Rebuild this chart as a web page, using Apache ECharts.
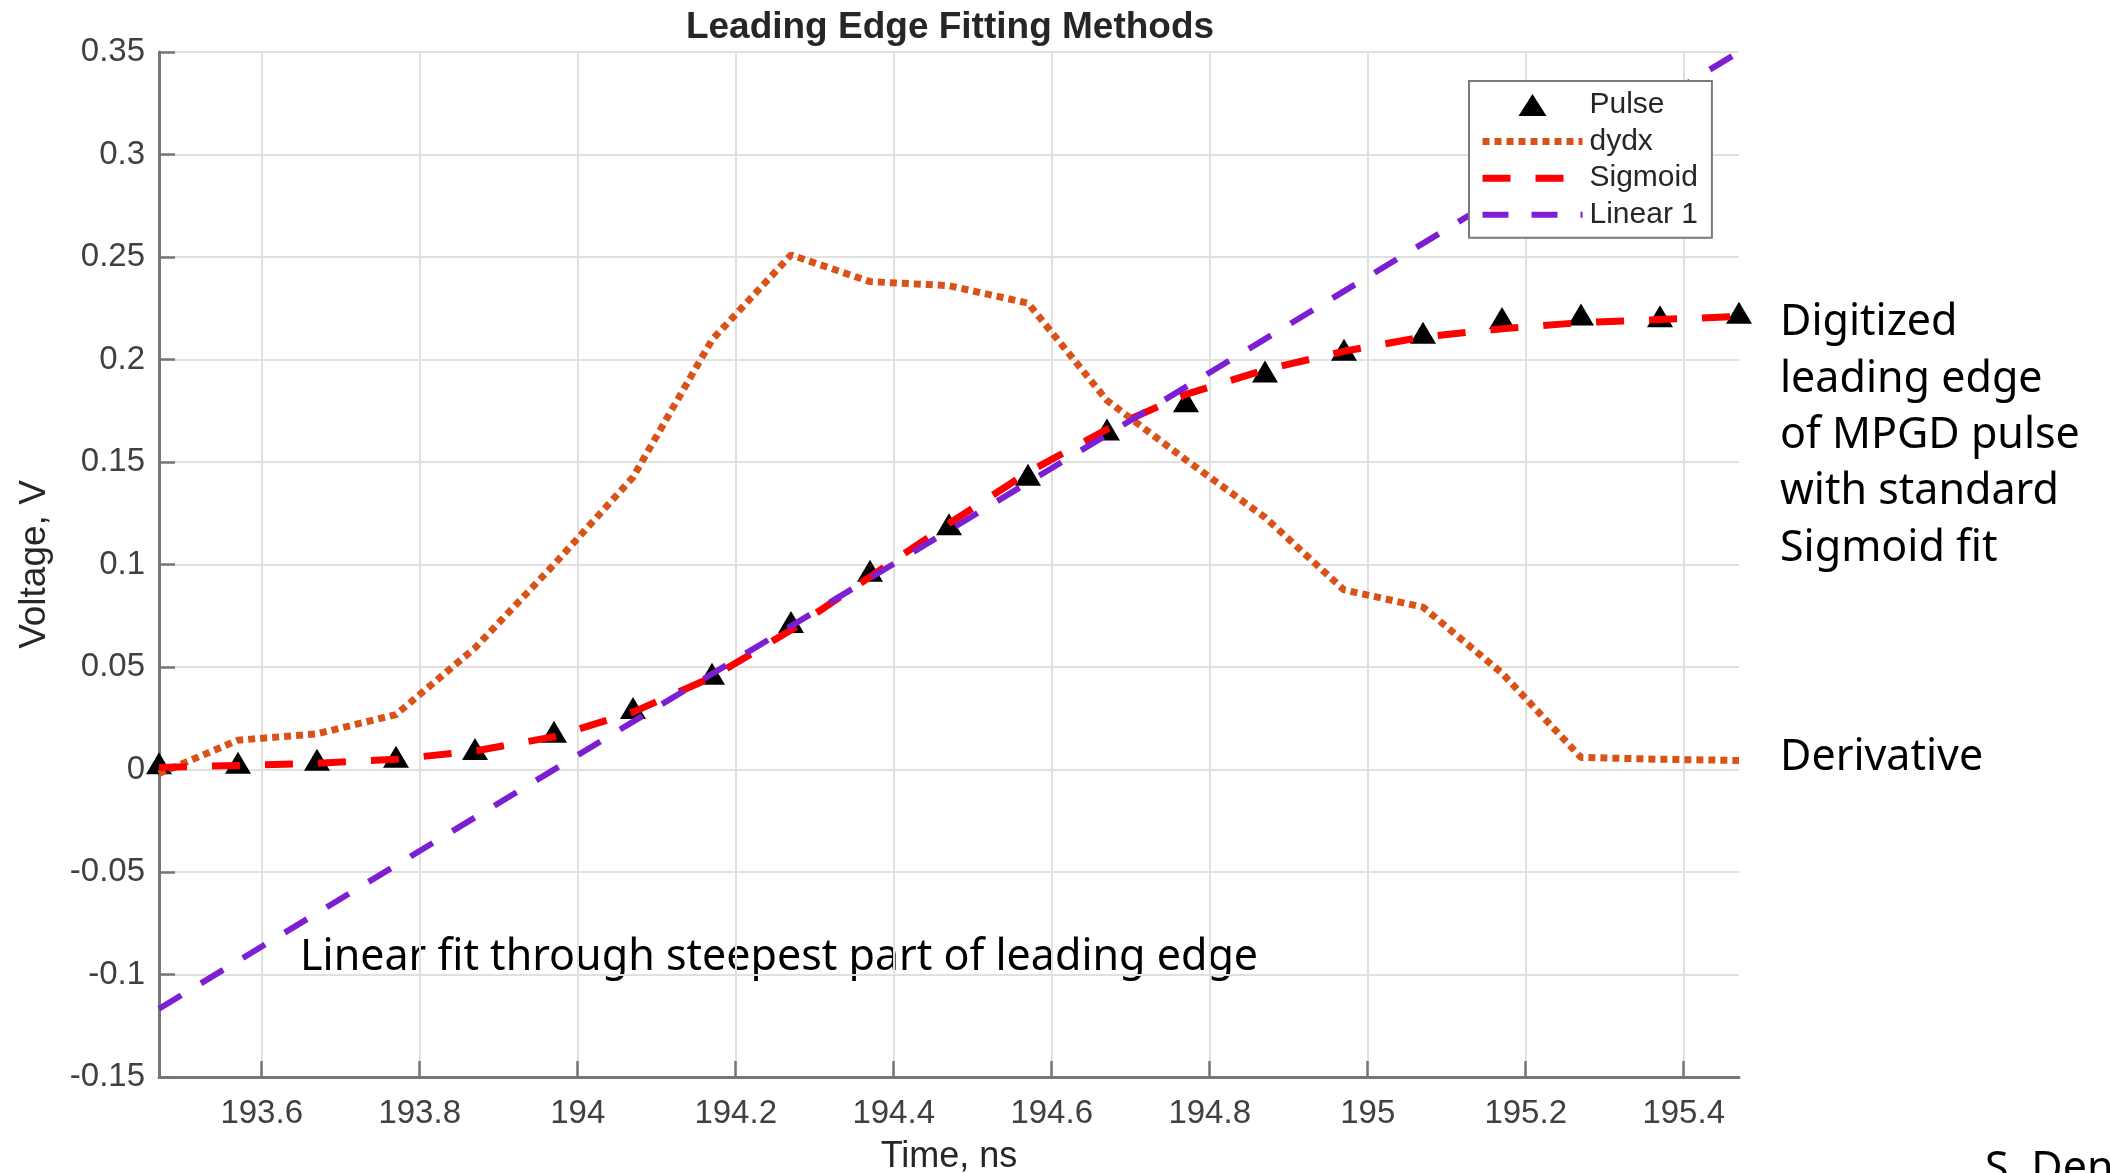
<!DOCTYPE html>
<html>
<head>
<meta charset="utf-8">
<script src="https://cdn.jsdelivr.net/npm/echarts@6/dist/echarts.min.js"></script>
<style>
html, body { margin: 0; padding: 0; background: #fff; }
#main { width: 2110px; height: 1173px; }
</style>
</head>
<body>
<div id="main"></div>
<script>
// time samples of the digitized pulse, ns
var timeNs = [193.47, 193.57, 193.67, 193.77, 193.87, 193.97, 194.07, 194.17, 194.27, 194.37, 194.47,
              194.57, 194.67, 194.77, 194.87, 194.97, 195.07, 195.17, 195.27, 195.37, 195.47];
var pulse = [0.003, 0.0033, 0.0048, 0.0062, 0.010, 0.0184, 0.030, 0.0467, 0.0719, 0.097, 0.1196,
             0.1438, 0.1658, 0.1796, 0.1942, 0.2048, 0.213, 0.2203, 0.2219, 0.2211, 0.2228];
var dydx = [-0.002, 0.0143, 0.0174, 0.0268, 0.0593, 0.100, 0.1426, 0.2096, 0.251, 0.238, 0.236,
            0.2275, 0.180, 0.151, 0.123, 0.0876, 0.0792, 0.047, 0.0059, 0.005, 0.0044];
var sigmoid = [0.001, 0.002, 0.003, 0.005, 0.009, 0.016, 0.028, 0.045, 0.068, 0.094, 0.12,
               0.145, 0.166, 0.183, 0.195, 0.204, 0.211, 0.215, 0.218, 0.2195, 0.221];
// linear fit end points
var linearTime = [193.47, 195.47];
var linear1 = [-0.1167, 0.35];
var xTicks = [193.6, 193.8, 194, 194.2, 194.4, 194.6, 194.8, 195, 195.2, 195.4];

function pairs(xs, ys) {
    return xs.map(function (x, i) { return [x, ys[i]]; });
}

var axisGray = "#767676";
var labelFont = "Liberation Sans";
var noteFont = "Noto Sans";
// triangle centred in a 100x22 legend slot
var legendTriangle = "path://M0,0L0,0M100,22L100,22M36,22L50,0L64,22Z";

var chart = echarts.init(document.getElementById("main"));

var option = {
    animation: false,
    backgroundColor: "#fff",
    title: {
        text: "Leading Edge Fitting Methods",
        left: 950,
        top: 9,
        padding: 0,
        textAlign: "center",
        textStyle: {fontFamily: labelFont, fontSize: 37, fontWeight: "bold", color: "#262626"}
    },
    grid: {left: 159, right: 371, top: 52, bottom: 96, containLabel: false, outerBoundsMode: "none"},
    legend: {
        orient: "vertical",
        left: 1469,
        top: 81,
        padding: [9, 14, 8, 10],
        itemWidth: 100,
        itemHeight: 22,
        itemGap: 6.6,
        backgroundColor: "#fff",
        borderColor: "#7a7a7a",
        borderWidth: 2,
        textStyle: {fontFamily: labelFont, fontSize: 30, color: "#262626", padding: [0, 0, 0, 2]},
        lineStyle: {width: 6},
        data: [
            {name: "Pulse", icon: legendTriangle, itemStyle: {color: "#000", opacity: 1}},
            {name: "dydx", itemStyle: {opacity: 0}, lineStyle: {width: 7}},
            {name: "Sigmoid", itemStyle: {opacity: 0}, lineStyle: {width: 7}},
            {name: "Linear 1", itemStyle: {opacity: 0}}
        ]
    },
    xAxis: {
        type: "value",
        min: 193.47,
        max: 195.47,
        name: "Time, ns",
        nameLocation: "middle",
        nameGap: 62,
        nameTextStyle: {fontFamily: labelFont, fontSize: 36, color: "#262626"},
        axisLine: {onZero: false, lineStyle: {color: axisGray, width: 3}},
        axisTick: {inside: true, length: 16, customValues: xTicks, lineStyle: {color: axisGray, width: 2.5}},
        axisLabel: {customValues: xTicks, fontFamily: labelFont, fontSize: 33, color: "#404040", margin: 20},
        splitLine: {show: true, lineStyle: {color: "#e0e0e0", width: 2}}
    },
    yAxis: {
        type: "value",
        min: -0.15,
        max: 0.35,
        interval: 0.05,
        name: "Voltage, V",
        nameLocation: "middle",
        nameGap: 106,
        nameTextStyle: {fontFamily: labelFont, fontSize: 37, color: "#262626"},
        axisLine: {show: true, onZero: false, lineStyle: {color: axisGray, width: 3}},
        axisTick: {show: true, inside: true, length: 16, lineStyle: {color: axisGray, width: 2.5}},
        axisLabel: {
            fontFamily: labelFont, fontSize: 33, color: "#404040", margin: 14,
            formatter: function (v) { return String(+v.toFixed(2)); }
        },
        splitLine: {show: true, lineStyle: {color: "#e0e0e0", width: 2}}
    },
    series: [
        {
            name: "Pulse", type: "scatter", data: pairs(timeNs, pulse),
            symbol: "triangle", symbolSize: [26, 22],
            itemStyle: {color: "#000", opacity: 1}
        },
        {
            name: "dydx", type: "line", data: pairs(timeNs, dydx), symbol: "none",
            lineStyle: {color: "#D95319", width: 7, type: [7, 5], cap: "butt"},
            itemStyle: {color: "#D95319"}
        },
        {
            name: "Sigmoid", type: "line", data: pairs(timeNs, sigmoid), symbol: "none",
            lineStyle: {color: "#ff0000", width: 7, type: [28, 25], cap: "butt"},
            itemStyle: {color: "#ff0000"}
        },
        {
            name: "Linear 1", type: "line", data: pairs(linearTime, linear1), symbol: "none",
            lineStyle: {color: "#7D1ED3", width: 6, type: [26, 23], cap: "butt"},
            itemStyle: {color: "#7D1ED3"}
        }
    ],
    graphic: [
        {type: "text", x: 1780, y: 295, style: {
            text: "Digitized\nleading edge\nof MPGD pulse\nwith standard\nSigmoid fit",
            fontFamily: noteFont, fontSize: 43, lineHeight: 56.3, fill: "#000", verticalAlign: "top"}},
        {type: "text", x: 1780, y: 730, style: {
            text: "Derivative", fontFamily: noteFont, fontSize: 43, lineHeight: 56.3, fill: "#000", verticalAlign: "top"}},
        {type: "text", x: 300, y: 930, style: {
            text: "Linear fit through steepest part of leading edge",
            fontFamily: noteFont, fontSize: 43, lineHeight: 56.3, fill: "#000", verticalAlign: "top"}},
        {type: "text", x: 1985, y: 1142, style: {
            text: "S. Den", fontFamily: noteFont, fontSize: 43, lineHeight: 56.3, fill: "#000", verticalAlign: "top"}}
    ]
};

chart.setOption(option);
</script>
</body>
</html>
